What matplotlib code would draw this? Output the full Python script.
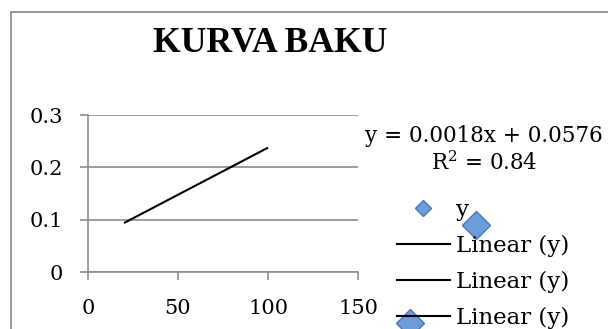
import matplotlib
matplotlib.use("Agg")
import matplotlib.pyplot as plt
from matplotlib.lines import Line2D
from matplotlib.patches import Rectangle

# ---- data ----
title = "KURVA BAKU"
x_ticks = [0, 50, 100, 150]
y_ticks = [0, 0.1, 0.2, 0.3]
y_ticklabels = ["0", "0.1", "0.2", "0.3"]
trend_x = [20, 100]
slope = 0.0018
intercept = 0.0576
r2 = 0.84
series_label = "y"
trend_labels = ["Linear (y)", "Linear (y)", "Linear (y)"]
# stray series markers drawn outside the plot area (data coords)
stray_x = [215.6, 178.9]
stray_y = [0.089, -0.097]

blue = "#6C9CDA"
blue_edge = "#4778B8"
grid_gray = "#8C8C8C"
serif = ["DejaVu Serif"]
title_font = ["Liberation Serif", "DejaVu Serif"]

fig = plt.figure(figsize=(6.08, 3.29), dpi=100)
W, H = 608, 329

# chart border
fig.add_artist(Rectangle((11 / W, -0.1), 1.2, 1 - 12 / H + 0.1, transform=fig.transFigure,
                         fill=False, edgecolor="#8C8C8C", linewidth=1.3))

ax = fig.add_axes([88 / W, 1 - 272 / H, (358 - 88) / W, (272 - 115) / H])
ax.set_xlim(0, 150)
ax.set_ylim(0, 0.3)
ax.set_xticks(x_ticks)
ax.set_yticks(y_ticks)
ax.set_yticklabels(y_ticklabels)
for s in ["top", "right"]:
    ax.spines[s].set_visible(False)
for s in ["left", "bottom"]:
    ax.spines[s].set_color(grid_gray)
    ax.spines[s].set_linewidth(1.2)
ax.yaxis.grid(True, color=grid_gray, linewidth=1.2)
ax.set_axisbelow(True)
ax.tick_params(axis="y", length=5.8, width=1.2, color=grid_gray, pad=12, labelsize=15)
ax.tick_params(axis="x", length=5.8, width=1.2, color=grid_gray, pad=13.5, labelsize=15)
for lab in ax.get_xticklabels() + ax.get_yticklabels():
    lab.set_fontfamily(serif)

# trend line
ty = [slope * v + intercept for v in trend_x]
ax.plot(trend_x, ty, color="black", linewidth=1.5, solid_capstyle="butt")

# stray large markers
ax.plot(stray_x, stray_y, linestyle="none", marker="D", markersize=14.3,
        markerfacecolor=blue, markeredgecolor=blue_edge, clip_on=False, zorder=5)

# title
fig.text(270 / W, 1 - 43 / H, title, ha="center", va="center", fontsize=25.7,
         fontweight="bold", family=title_font)

# equation text
fig.text(483.5 / W, 1 - 136 / H, f"y = {slope}x + {intercept}", ha="center", va="center",
         fontsize=15.5, family=serif)
fig.text(484 / W, 1 - 163 / H, f"R$^2$ = {r2}", ha="center", va="center",
         fontsize=15.5, family=serif, math_fontfamily="dejavuserif")

# legend
handles = [Line2D([], [], linestyle="none", marker="D", markersize=8.5,
                  markerfacecolor=blue, markeredgecolor=blue_edge)]
handles += [Line2D([], [], color="black", linewidth=1.5) for _ in trend_labels]
labels = [series_label] + trend_labels
leg = fig.legend(handles, labels, loc="upper left", bbox_to_anchor=(397 / W, 1 - 199 / H),
                 frameon=False, prop={"family": serif, "size": 16.5}, handlelength=2.3,
                 handletextpad=0.26, labelspacing=0.6, borderpad=0, borderaxespad=0)

fig.savefig("out.png", dpi=100)
